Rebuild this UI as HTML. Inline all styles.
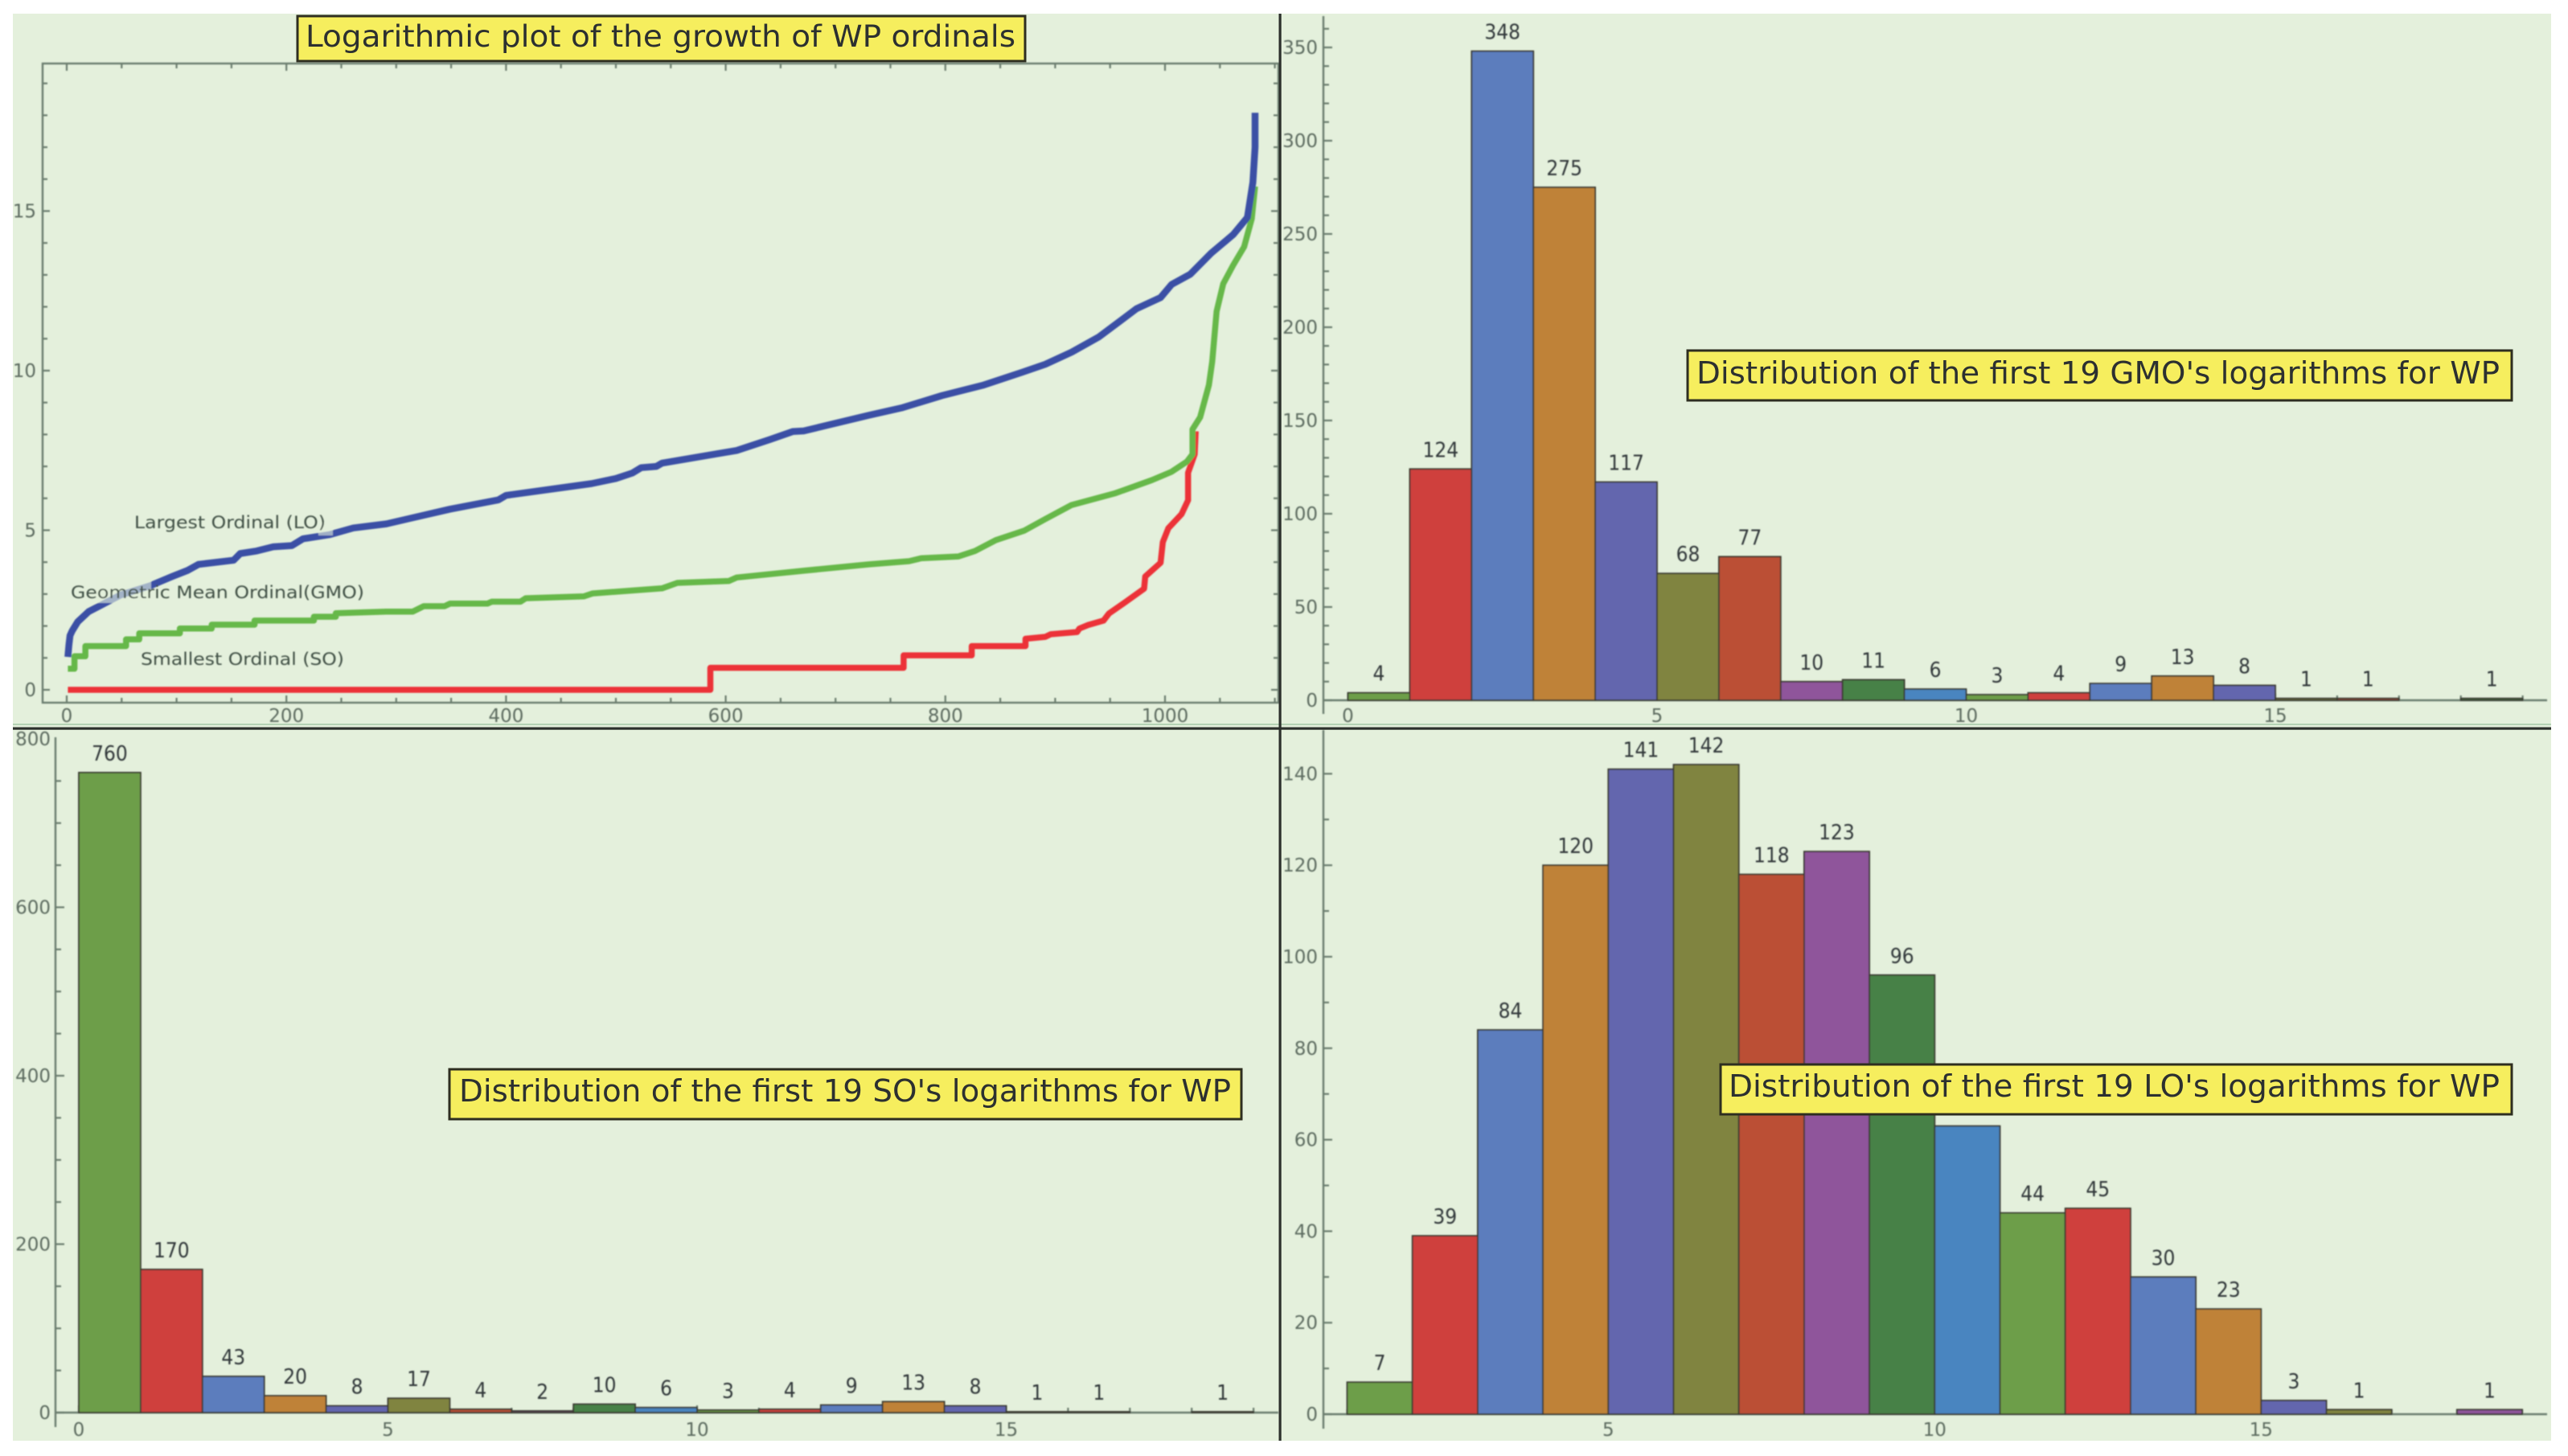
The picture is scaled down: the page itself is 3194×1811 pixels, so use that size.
<!DOCTYPE html>
<html lang="en">
<head>
<meta charset="utf-8">
<title>Growth of WP ordinals</title>
<style>
html,body{margin:0;padding:0;background:#fff;}
svg{display:block;font-family:"DejaVu Sans","Liberation Sans",sans-serif;}
</style>
</head>
<body>
<svg id="figure" xmlns="http://www.w3.org/2000/svg" width="3194" height="1811" viewBox="0 0 3194 1811">
  <rect x="16" y="17" width="3157" height="1775" fill="#e4f0dc"/>
  <g id="panel-growth" filter="url(#soft)"></g>
  <g id="panel-gmo" filter="url(#soft)"></g>
  <g id="panel-so" filter="url(#soft)"></g>
  <g id="panel-lo" filter="url(#soft)"></g>
  <defs><filter id="soft" x="-2%" y="-2%" width="104%" height="104%"><feGaussianBlur stdDeviation="0.8"/></filter></defs>

  <g>
    <rect x="16" y="900" width="3157" height="2" fill="#b4d2b4"/>
    <rect x="16" y="904.5" width="3157" height="3.2" fill="#2c302c"/>
    <rect x="1590.5" y="17" width="3.2" height="1775" fill="#2c302c"/>
  </g>

  <g>
    <rect x="370" y="20" width="905" height="56" fill="#f6ee5e" stroke="#2e2e20" stroke-width="3"/>
    <text x="380" y="58" font-size="37" fill="#2c3030" textLength="883" lengthAdjust="spacingAndGlyphs">Logarithmic plot of the growth of WP ordinals</text>
  </g>
  <g>
    <rect x="2099" y="436" width="1025" height="62" fill="#f6ee5e" stroke="#2e2e20" stroke-width="3"/>
    <text x="2110" y="477" font-size="38" fill="#2c3030" textLength="999" lengthAdjust="spacingAndGlyphs">Distribution of the first 19 GMO's logarithms for WP</text>
  </g>
  <g>
    <rect x="559" y="1330" width="985" height="62" fill="#f6ee5e" stroke="#2e2e20" stroke-width="3"/>
    <text x="571" y="1370" font-size="38" fill="#2c3030" textLength="960" lengthAdjust="spacingAndGlyphs">Distribution of the first 19 SO's logarithms for WP</text>
  </g>
  <g>
    <rect x="2140" y="1324" width="984" height="62" fill="#f6ee5e" stroke="#2e2e20" stroke-width="3"/>
    <text x="2150" y="1364" font-size="38" fill="#2c3030" textLength="959" lengthAdjust="spacingAndGlyphs">Distribution of the first 19 LO's logarithms for WP</text>
  </g>
</svg>

<script>
// ---------- Growth line chart data ----------
const loRanks = [1,2,3,5,10,20,30,49,76,96,110,120,152,158,173,188,205,215,239,261,291,349,393,400,478,500,515,523,537,542,610,640,661,671,730,760,797,834,870,891,915,940,974,996,1006,1023,1042,1062,1075,1080,1082,1082];
const loLogs = [1.03,1.4,1.7,1.85,2.13,2.45,2.63,2.97,3.26,3.55,3.74,3.93,4.06,4.27,4.35,4.48,4.52,4.73,4.86,5.07,5.2,5.66,5.95,6.09,6.46,6.62,6.79,6.96,7.0,7.1,7.5,7.84,8.09,8.11,8.6,8.83,9.22,9.54,9.95,10.2,10.58,11.06,11.94,12.29,12.7,13.02,13.68,14.26,14.8,15.9,17,18.08];

const gmoRanks = [1,7,7,17,17,54,54,66,66,103,103,132,132,171,171,225,225,245,245,291,315,325,344,349,383,387,413,418,471,479,542,556,603,610,671,730,767,778,812,827,846,872,891,915,954,988,1006,1020,1025,1025,1032,1040,1043,1047,1053,1062,1072,1079,1082];
const gmoLogs = [0.66,0.66,1.05,1.05,1.37,1.37,1.58,1.58,1.77,1.77,1.92,1.92,2.04,2.04,2.17,2.17,2.29,2.29,2.4,2.45,2.45,2.62,2.62,2.7,2.7,2.76,2.76,2.87,2.93,3.02,3.18,3.35,3.41,3.52,3.73,3.93,4.03,4.12,4.18,4.35,4.69,4.99,5.35,5.79,6.15,6.57,6.83,7.15,7.38,8.16,8.54,9.55,10.28,11.86,12.72,13.3,13.88,14.76,15.77];

const soRanks = [1,586,586,762,762,824,824,873,873,891,896,920,922,930,944,949,964,981,982,996,998,1003,1015,1021,1021,1027,1028];
const soLogs = [0,0,0.69,0.69,1.08,1.08,1.37,1.37,1.6,1.66,1.74,1.81,1.92,2.03,2.17,2.39,2.75,3.17,3.55,3.98,4.63,5.06,5.5,5.94,6.8,7.38,8.1];

const growthXTicks = [0,200,400,600,800,1000];
const growthYTicks = [0,5,10,15];

// ---------- Histogram data ----------
const gmoCounts = [4,124,348,275,117,68,77,10,11,6,3,4,9,13,8,1,1,0,1];
const soCounts = [760,170,43,20,8,17,4,2,10,6,3,4,9,13,8,1,1,0,1];
const loCounts = [7,39,84,120,141,142,118,123,96,63,44,45,30,23,3,1,0,1];

const gmoXTicks = [0,5,10,15];
const gmoYTicks = [0,50,100,150,200,250,300,350];
const soXTicks = [0,5,10,15];
const soYTicks = [0,200,400,600,800];
const loXTicks = [5,10,15];
const loYTicks = [0,20,40,60,80,100,120,140];

const binColors = ['#6d9e4a','#cf403c','#5b7dbd','#bf8239','#6366ae','#80843f','#bb5035','#8f549b','#478147','#4885c0'];

// ---------- Helpers ----------
const NS = 'http://www.w3.org/2000/svg';
const AXIS = '#6b7d6e';
const TICKTEXT = '#5d6c60';
const VALTEXT = '#30393a';

function make(parent, tag, attrs, text) {
  const el = document.createElementNS(NS, tag);
  for (const k in attrs) el.setAttribute(k, attrs[k]);
  if (text !== undefined) el.textContent = text;
  parent.appendChild(el);
  return el;
}

function drawTick(parent, x1, y1, x2, y2) {
  const el = make(parent, 'line', {x1: x1, y1: y1, x2: x2, y2: y2, stroke: AXIS, 'stroke-width': 2.2});
  
  
  return el;
}

function drawTickLabel(parent, x, y, anchor, label) {
  const el = make(parent, 'text', {x: x, y: y, 'text-anchor': anchor, 'font-size': 23, fill: TICKTEXT}, String(label));
  
  
  return el;
}

// ---------- Growth chart ----------
(function drawGrowth() {
  const g = document.getElementById('panel-growth');
  const sx = v => 83 + 1.366 * v;
  const sy = v => 858 - 39.7 * v;
  const left = 53, right = 1590, top = 79, bottom = 874;

  const frame = make(g, 'rect', {x: left, y: top, width: right - left, height: bottom - top, fill: 'none', stroke: AXIS, 'stroke-width': 2.4});
  
  

  for (let v = 0; v <= 1100; v += 50) {
    const len = v % 200 === 0 ? 9 : 6;
    drawTick(g, sx(v), bottom, sx(v), bottom - len);
    drawTick(g, sx(v), top, sx(v), top + len);
  }
  for (let v = 0; v <= 19; v += 1) {
    const len = v % 5 === 0 ? 9 : 6;
    drawTick(g, left, sy(v), left + len, sy(v));
    drawTick(g, right, sy(v), right - len, sy(v));
  }
  growthXTicks.forEach(v => drawTickLabel(g, sx(v), 898, 'middle', v));
  growthYTicks.forEach(v => drawTickLabel(g, 45, sy(v) + 8, 'end', v));

  const series = [
    {name: 'so-line', ranks: soRanks, logs: soLogs, color: '#ec3239', w: 7.5},
    {name: 'gmo-line', ranks: gmoRanks, logs: gmoLogs, color: '#66b848', w: 7.5},
    {name: 'lo-line', ranks: loRanks, logs: loLogs, color: '#3b4fa5', w: 8.5}
  ];
  series.forEach(s => {
    const pts = s.ranks.map((r, i) => sx(r).toFixed(1) + ',' + sy(s.logs[i]).toFixed(1)).join(' ');
    const line = make(g, 'polyline', {points: pts, fill: 'none', stroke: s.color, 'stroke-width': s.w, 'stroke-linejoin': 'round'});
    
    
  });

  // Veil behind the two labels that overlap the blue curve
  const veilA = make(g, 'rect', {x: 118, y: 716, width: 70, height: 34, fill: '#e4f0dc', opacity: 0.62});
  
  
  const veilB = make(g, 'rect', {x: 396, y: 650, width: 18, height: 16, fill: '#e4f0dc', opacity: 0.6});
  
  

  const labelLo = make(g, 'text', {x: 167, y: 657, 'font-size': 21, fill: '#3f4f44', textLength: 238, lengthAdjust: 'spacingAndGlyphs'}, 'Largest Ordinal (LO)');
  
  
  const labelGmo = make(g, 'text', {x: 88, y: 744, 'font-size': 21, fill: '#3f4f44', textLength: 365, lengthAdjust: 'spacingAndGlyphs'}, 'Geometric Mean Ordinal(GMO)');
  
  
  const labelSo = make(g, 'text', {x: 175, y: 827, 'font-size': 21, fill: '#3f4f44', textLength: 253, lengthAdjust: 'spacingAndGlyphs'}, 'Smallest Ordinal (SO)');
  
  
})();

// ---------- Histograms ----------
function drawHistogram(o) {
  const g = document.getElementById(o.id);
  const sx = v => o.x0 + o.xs * v;
  const sy = v => o.y0 - o.ys * v;

  const yAxis = make(g, 'line', {x1: o.axisX, y1: o.axisTop, x2: o.axisX, y2: o.axisBottom, stroke: AXIS, 'stroke-width': 2.4});
  
  
  const xAxis = make(g, 'line', {x1: o.axisX, y1: o.y0, x2: o.axisRight, y2: o.y0, stroke: AXIS, 'stroke-width': 2.4});
  
  

  const yMaxPx = o.axisTop + 2;
  for (let v = 0; sy(v) >= yMaxPx; v += o.yMinor) {
    const major = v % o.yMajor === 0;
    drawTick(g, o.axisX, sy(v), o.axisX + (major ? 11 : 7), sy(v));
  }
  for (let v = o.firstBin; sx(v) <= o.axisRight; v += 1) {
    drawTick(g, sx(v), o.y0, sx(v), o.y0 - (v % 5 === 0 ? 9 : 6));
  }
  o.xTicks.forEach(v => drawTickLabel(g, sx(v), o.xLabelY, 'middle', v));
  o.yTicks.forEach(v => drawTickLabel(g, o.yLabelX, sy(v) + 8, 'end', v));

  o.counts.forEach((c, i) => {
    if (c === 0) return;
    const bin = o.firstBin + i;
    const bar = make(g, 'rect', {
      x: sx(bin), y: sy(c), width: o.xs, height: o.y0 - sy(c),
      fill: binColors[i % binColors.length], stroke: '#3a3a30', 'stroke-width': 1.8
    });
    
    
    const label = make(g, 'text', {
      x: sx(bin) + o.xs / 2, y: sy(c) - 15, 'text-anchor': 'middle',
      'font-size': 26, 'font-stretch': 'condensed', fill: VALTEXT,
      style: 'font-family:"DejaVu Sans Condensed","DejaVu Sans",sans-serif;font-stretch:condensed'
    }, String(c));
    
    
  });
}

drawHistogram({
  id: 'panel-gmo', counts: gmoCounts, firstBin: 0, xTicks: gmoXTicks, yTicks: gmoYTicks,
  x0: 1676.5, xs: 76.9, y0: 871, ys: 2.32, yMinor: 10, yMajor: 50,
  axisX: 1646, axisTop: 20, axisBottom: 888, axisRight: 3168, xLabelY: 898, yLabelX: 1639
});
drawHistogram({
  id: 'panel-so', counts: soCounts, firstBin: 0, xTicks: soXTicks, yTicks: soYTicks,
  x0: 98, xs: 76.9, y0: 1757, ys: 1.0475, yMinor: 50, yMajor: 200,
  axisX: 69, axisTop: 917, axisBottom: 1775, axisRight: 1590, xLabelY: 1786, yLabelX: 63
});
drawHistogram({
  id: 'panel-lo', counts: loCounts, firstBin: 1, xTicks: loXTicks, yTicks: loYTicks,
  x0: 1594.3, xs: 81.2, y0: 1759, ys: 5.69, yMinor: 10, yMajor: 20,
  axisX: 1646, axisTop: 908, axisBottom: 1777, axisRight: 3168, xLabelY: 1786, yLabelX: 1639
});
</script>
</body>
</html>
